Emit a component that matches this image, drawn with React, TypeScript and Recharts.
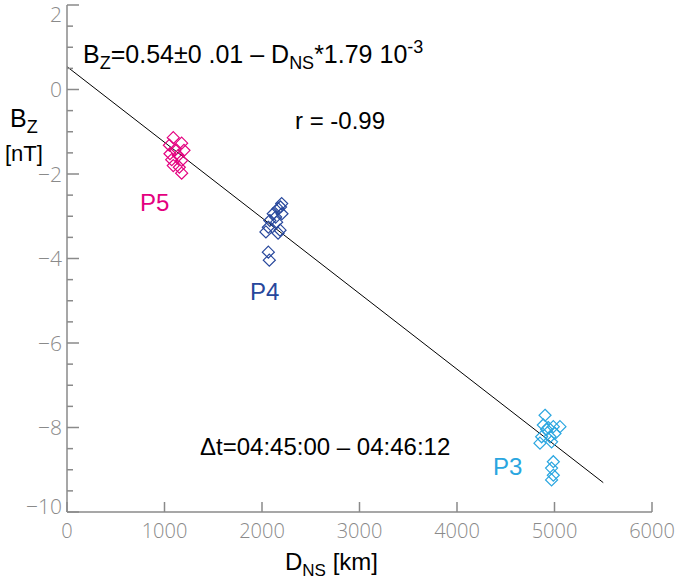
import { ScatterChart, Scatter, XAxis, YAxis, ReferenceLine } from "recharts";

// distance D_NS [km] and Bz [nT]
const p5Dns = [1090, 1176, 1050, 1108, 1200, 1056, 1142, 1074, 1176, 1090, 1152, 1176];
const p5Bz = [-1.14, -1.27, -1.32, -1.43, -1.44, -1.52, -1.56, -1.66, -1.68, -1.8, -1.84, -1.98];

const p4Dns = [2202, 2165, 2115, 2205, 2080, 2150, 2065, 2185, 2040, 2165, 2065, 2075, 2190, 2140];
const p4Bz = [-2.7, -2.82, -2.94, -2.94, -3.1, -3.14, -3.26, -3.33, -3.37, -3.4, -3.85, -4.04, -2.78, -3.02];

const p3Dns = [4903, 4885, 4988, 4935, 5005, 4868, 4954, 4851, 4970, 4988, 4970, 4988, 4970, 5056, 4920];
const p3Bz = [-7.71, -7.94, -7.98, -8.0, -8.14, -8.22, -8.22, -8.37, -8.34, -8.81, -8.96, -9.13, -9.24, -7.98, -8.05];

const xTicks = [0, 1000, 2000, 3000, 4000, 5000, 6000];
const yTicks = Array.from({ length: 25 }, (_, i) => 2 - i * 0.5);

// fit: Bz = 0.54 - D * 1.79e-3
const fitStart = { x: 0, y: 0.54 };
const fitEnd = { x: 5500, y: 0.54 - 5500 * 1.79e-3 };

const toPoints = (d: number[], b: number[]) => d.map((v, i) => ({ d: v, bz: b[i] }));

const AXIS = "#8a8a8a";
const TICK_FONT = "'Open Sans', sans-serif";
const TEXT_FONT = "'Liberation Sans', Arial, sans-serif";

const isMajor = (v: number) => Number.isInteger(v / 2);
const fmt = (v: number) => (v < 0 ? "\u2212" + Math.abs(v) : String(v));

const BottomTick = (props: any) => {
  const { x, y, payload } = props;
  return (
    <g>
      <line x1={x} y1={y} x2={x} y2={y - 10} stroke={AXIS} strokeWidth={1.5} />
      <text x={x} y={y + 26} textAnchor="middle" fontSize={20} fontWeight={300} fill={AXIS} fontFamily={TICK_FONT}>
        {payload.value}
      </text>
    </g>
  );
};

const TopTick = (props: any) => {
  const { x, y } = props;
  return <line x1={x} y1={y} x2={x} y2={y + 10} stroke={AXIS} strokeWidth={1.5} />;
};

const LeftTick = (props: any) => {
  const { x, y, payload } = props;
  const v = payload.value;
  const len = isMajor(v) ? 12 : 6;
  // the end labels sit a little inside the frame
  const shift = v === 2 ? 9 : v === -10 ? -6 : 0;
  return (
    <g>
      <line x1={x} y1={y} x2={x + len} y2={y} stroke={AXIS} strokeWidth={1.5} />
      {isMajor(v) && (
        <text x={x - 5} y={y + shift} dy="0.36em" textAnchor="end" fontSize={21} fontWeight={300} fill={AXIS} fontFamily={TICK_FONT}>
          {fmt(v)}
        </text>
      )}
    </g>
  );
};

const RightTick = (props: any) => {
  const { x, y, payload } = props;
  const len = isMajor(payload.value) ? 12 : 6;
  return <line x1={x} y1={y} x2={x - len} y2={y} stroke={AXIS} strokeWidth={1.5} />;
};

const diamond = (color: string) => (props: any) => {
  const { cx, cy } = props;
  const r = 6;
  return (
    <path
      d={`M${cx},${cy - r}L${cx + r},${cy}L${cx},${cy + r}L${cx - r},${cy}Z`}
      fill="none"
      stroke={color}
      strokeWidth={1.2}
    />
  );
};

const P5_COLOR = "#e4007f";
const P4_COLOR = "#27479c";
const P3_COLOR = "#2aa6e0";

export default function App() {
  return (
    <div style={{ position: "absolute", left: 0, top: 0, width: 679, height: 580, background: "#fff" }}>
      <ScatterChart width={679} height={580} margin={{ top: 5, right: 27, bottom: 0, left: 0 }}>
        <XAxis
          xAxisId="bottom"
          dataKey="d"
          type="number"
          domain={[0, 6000]}
          ticks={xTicks}
          height={68}
          tickSize={0}
          tickMargin={0}
          tick={<BottomTick />}
          axisLine={{ stroke: AXIS, strokeWidth: 1.5 }}
          allowDataOverflow
        />
        <XAxis
          xAxisId="top"
          orientation="top"
          type="number"
          domain={[0, 6000]}
          ticks={xTicks}
          height={0}
          tickSize={0}
          tickMargin={0}
          tick={<TopTick />}
          axisLine={{ stroke: AXIS, strokeWidth: 1.5 }}
        />
        <YAxis
          yAxisId="left"
          dataKey="bz"
          type="number"
          domain={[-10, 2]}
          ticks={yTicks}
          interval={0}
          width={67}
          tickSize={0}
          tickMargin={0}
          tick={<LeftTick />}
          axisLine={{ stroke: AXIS, strokeWidth: 1.5 }}
          allowDataOverflow
        />
        <YAxis
          yAxisId="right"
          orientation="right"
          type="number"
          domain={[-10, 2]}
          ticks={yTicks}
          interval={0}
          width={0}
          tickSize={0}
          tickMargin={0}
          tick={<RightTick />}
          axisLine={{ stroke: AXIS, strokeWidth: 1.5 }}
        />
        <ReferenceLine
          xAxisId="bottom"
          yAxisId="left"
          segment={[fitStart, fitEnd]}
          stroke="#000"
          strokeWidth={1}
          ifOverflow="visible"
        />
        <Scatter xAxisId="bottom" yAxisId="left" data={toPoints(p5Dns, p5Bz)} shape={diamond(P5_COLOR)} isAnimationActive={false} />
        <Scatter xAxisId="bottom" yAxisId="left" data={toPoints(p4Dns, p4Bz)} shape={diamond(P4_COLOR)} isAnimationActive={false} />
        <Scatter xAxisId="bottom" yAxisId="left" data={toPoints(p3Dns, p3Bz)} shape={diamond(P3_COLOR)} isAnimationActive={false} />
      </ScatterChart>

      {/* annotations */}
      <svg width={679} height={580} style={{ position: "absolute", left: 0, top: 0, pointerEvents: "none" }} fontFamily={TEXT_FONT}>
        <text x={83} y={63} fontSize={25} fill="#000">
          B<tspan dy={6} fontSize={18}>Z</tspan>
          <tspan dy={-6}>=0.54±0 .01 – D</tspan>
          <tspan dy={6} fontSize={18}>NS</tspan>
          <tspan dy={-6}>*1.79 10</tspan>
          <tspan dy={-10} fontSize={18}>-3</tspan>
        </text>
        <text x={295} y={129} fontSize={24} fill="#000">r = -0.99</text>
        <text x={200} y={455} fontSize={24} fill="#000">Δt=04:45:00 – 04:46:12</text>

        <text x={140} y={211} fontSize={24} fill={P5_COLOR}>P5</text>
        <text x={250} y={300} fontSize={24} fill={P4_COLOR}>P4</text>
        <text x={493} y={475} fontSize={24} fill={P3_COLOR}>P3</text>

        <text x={10} y={127} fontSize={25} fill="#000">
          B<tspan dy={6} fontSize={18}>Z</tspan>
        </text>
        <text x={5} y={161} fontSize={22} fill="#000">[nT]</text>

        <text x={285} y={570} fontSize={24} fill="#000">
          D<tspan dy={6} fontSize={17}>NS</tspan>
          <tspan dy={-6}> [km]</tspan>
        </text>
      </svg>
    </div>
  );
}
